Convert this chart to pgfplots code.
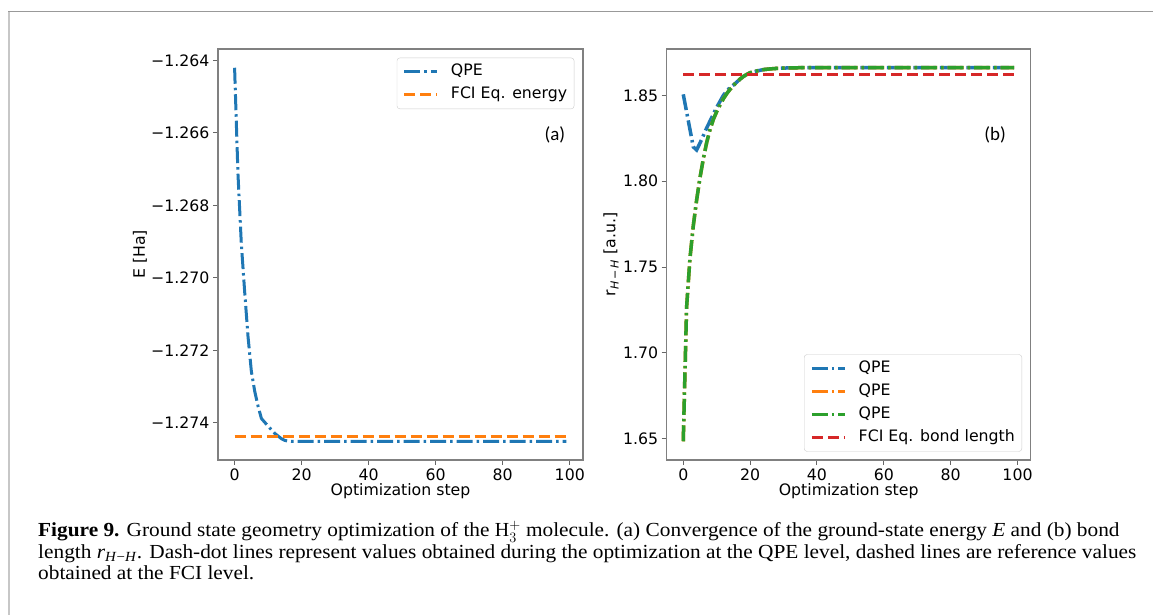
\documentclass[border=0pt]{standalone}
\usepackage{fontspec}
\setmainfont{Liberation Serif}
\newfontfamily\capfont[FakeStretch=1.07]{Liberation Serif}
\newfontfamily\dejavu{DejaVu Sans}
\newfontfamily\carlito{Carlito}
\usepackage{pgfplots}
\pgfplotsset{compat=1.18}

\definecolor{tabblue}{HTML}{1F77B4}
\definecolor{taborange}{HTML}{FF7F0E}
\definecolor{tabgreen}{HTML}{2CA02C}
\definecolor{tabred}{HTML}{D62728}

\newcommand{\plotfont}{\dejavu\fontsize{15.8}{18}\selectfont}

\pgfplotsset{
  mystyle/.style={
    scale only axis, width=365bp, height=411bp,
    axis line style={black!50, line width=1.2bp},
    tick align=outside, major tick length=5bp,
    tick style={black!60, line width=1bp},
    xtick pos=bottom, ytick pos=left,
    ticklabel style={font=\plotfont},
    /pgf/number format/assume math mode=true,
    label style={font=\plotfont},
    xlabel={Optimization step},
    xlabel style={at={(axis description cs:0.5,-0.0754)}, anchor=center},
    xmin=-4.95, xmax=103.95, xtick={0,20,...,100},
    legend cell align=left,
    legend image code/.code={\draw[##1] (0bp,0bp) -- (33bp,0bp);},
    legend style={font=\plotfont, draw=black!20, rounded corners=3bp,
      fill=white, fill opacity=0.8, text opacity=1,
      inner xsep=6bp, inner ysep=2.5bp,
      nodes={inner xsep=1bp, inner ysep=4bp, text height=11.5bp, text depth=3.5bp},
      /tikz/every odd column/.append style={column sep=11bp}},
  },
  dashdot/.style={line width=3bp, dash pattern=on 16bp off 4bp on 2.5bp off 4bp},
  dashdotb/.style={line width=3.5bp, dash pattern=on 16bp off 4bp on 2.5bp off 4bp},
  dashedb/.style={line width=3bp, dash pattern=on 11bp off 5bp},
}

\begin{document}
\begin{tikzpicture}[x=1bp,y=1bp]
\path[use as bounding box] (0,0) rectangle (1153,615);
\draw[color=black!40, line width=1.5bp] (8,603.3) -- (1153,603.3);
\draw[color=black!22, line width=2bp] (8.5,0) -- (8.5,603.3);

\begin{axis}[mystyle, at={(218bp,155bp)}, anchor=south west,
  ymin=-1.275026, ymax=-1.263684,
  ytick={-1.274,-1.272,-1.270,-1.268,-1.266,-1.264},
  yticklabels={−1.274,−1.272,−1.270,−1.268,−1.266,−1.264},
  ylabel={E [Ha]},
  ylabel style={at={(axis description cs:-0.2137,0.5)}, anchor=center},
  legend style={at={(1,1)}, anchor=north east, xshift=-8.7bp, yshift=-8.7bp},
]
\addplot[tabblue, dashdot] coordinates {
(0,-1.264202) (1,-1.267119) (2,-1.269046) (3,-1.270376) (4,-1.271615)
(5,-1.272578) (6,-1.273128) (7,-1.273541) (8,-1.273881) (10,-1.274092)
(12,-1.274294) (14,-1.274440) (15,-1.274486) (16,-1.274505) (17,-1.274514)
(99,-1.274514)};
\addlegendentry{QPE}
\addplot[taborange, dashedb] coordinates {(0,-1.274385) (99,-1.274385)};
\addlegendentry{FCI Eq. energy}
\node[font=\carlito\fontsize{19}{22}\selectfont] at (axis description cs:0.923,0.791) {(a)};
\end{axis}

\begin{axis}[mystyle, at={(666.7bp,155bp)}, anchor=south west, width=364bp,
  ymin=1.6377, ymax=1.8770,
  ytick={1.65,1.70,1.75,1.80,1.85},
  yticklabels={1.65,1.70,1.75,1.80,1.85},
  ylabel={r\textsubscript{\textit{H}\,−\,\textit{H}} [a.u.]},
  ylabel style={at={(axis description cs:-0.153,0.5)}, anchor=center},
  legend style={at={(1,0)}, anchor=south east, xshift=-8.7bp, yshift=8.3bp},
]
\addplot[tabblue, dashdotb] coordinates {
(0,1.8506) (1,1.8404) (2,1.8302) (3,1.8200) (4,1.8182) (5,1.8222)
(6,1.8265) (7,1.8310) (8,1.8350) (9,1.8390) (10,1.8430) (11,1.8465)
(12,1.8500) (13,1.8525) (14,1.8545) (15,1.8560) (16,1.8577) (17,1.8595)
(18,1.8610) (19,1.8622) (20,1.8632) (22,1.8642) (24,1.8650) (26,1.8654)
(28,1.8657) (30,1.8659) (35,1.8661) (99,1.8661)};
\addlegendentry{QPE}
\addplot[taborange, dashdotb] coordinates {
(0,1.6486) (1,1.7266) (2,1.7550) (3,1.7740) (4,1.7890) (5,1.8020)
(6,1.8130) (7,1.8225) (8,1.8300) (9,1.8360) (10,1.8405) (11,1.8445)
(12,1.8480) (13,1.8510) (14,1.8535) (15,1.8557) (16,1.8577) (17,1.8595)
(18,1.8610) (19,1.8622) (20,1.8632) (22,1.8642) (24,1.8650) (26,1.8654)
(28,1.8657) (30,1.8659) (35,1.8661) (99,1.8661)};
\addlegendentry{QPE}
\addplot[tabgreen, dashdotb] coordinates {
(0,1.6486) (1,1.7266) (2,1.7550) (3,1.7740) (4,1.7890) (5,1.8020)
(6,1.8130) (7,1.8225) (8,1.8300) (9,1.8360) (10,1.8405) (11,1.8445)
(12,1.8480) (13,1.8510) (14,1.8535) (15,1.8557) (16,1.8577) (17,1.8595)
(18,1.8610) (19,1.8622) (20,1.8632) (22,1.8642) (24,1.8650) (26,1.8654)
(28,1.8657) (30,1.8659) (35,1.8661) (99,1.8661)};
\addlegendentry{QPE}
\addplot[tabred, dashedb] coordinates {(0,1.8622) (99,1.8622)};
\addlegendentry{FCI Eq. bond length}
\node[font=\carlito\fontsize{19}{22}\selectfont] at (axis description cs:0.902,0.791) {(b)};
\end{axis}

\begin{scope}[font=\capfont\fontsize{20}{21.7}\selectfont]
\node[anchor=base west, inner sep=0] at (38,78) {\textbf{Figure 9.} Ground state geometry optimization of the $\textrm{H}_3^+$ molecule. (a) Convergence of the ground-state energy \textit{E} and (b) bond};
\node[anchor=base west, inner sep=0] at (38,56.5) {length \textit{r}\textsubscript{\textit{H}−\textit{H}}. Dash-dot lines represent values obtained during the optimization at the QPE level, dashed lines are reference values};
\node[anchor=base west, inner sep=0] at (38,35) {obtained at the FCI level.};
\end{scope}
\end{tikzpicture}
\end{document}
